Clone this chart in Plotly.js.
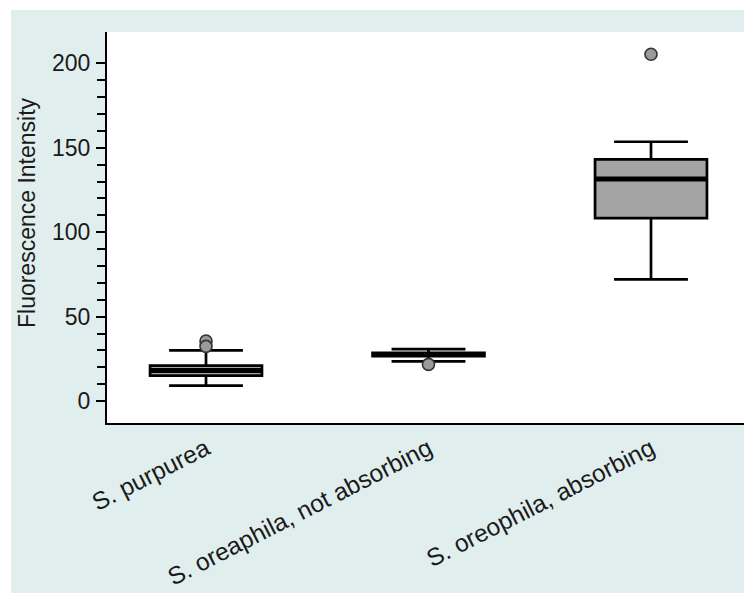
<!DOCTYPE html>
<html>
<head>
<meta charset="utf-8">
<script src="https://cdn.plot.ly/plotly-3.0.1.min.js"></script>
<style>
  html, body { margin: 0; padding: 0; background: #ffffff; }
  #chart { position: absolute; left: 11px; top: 10px; width: 733px; height: 583px; }
</style>
</head>
<body>
<div id="chart"></div>
<script>
// ---- data ----
const categories = ["S. purpurea", "S. oreaphila, not absorbing", "S. oreophila, absorbing"];
const positions = [0, 1, 2];
const lowerWhisker = [9.1, 23.5, 72.1];
const q1Values = [15.1, 26.6, 108.4];
const medianValues = [18.1, 27.6, 131.5];
const q3Values = [21.0, 28.6, 143.1];
const upperWhisker = [30.0, 30.8, 153.6];
const outlierGroup = [0, 0, 1, 2];
const outlierValues = [35.6, 32.4, 21.7, 205.4];
const yTickLabels = ["0", "50", "100", "150", "200"];
const yTickValues = [0, 50, 100, 150, 200];
const yTitle = "Fluorescence Intensity";

// ---- styling ----
const BOX_W = 0.503;
const FONT = "Liberation Sans, Arial, Helvetica, sans-serif";

const minorVals = [];
for (let v = 10; v < 200; v += 10) if (v % 50 !== 0) minorVals.push(v);

// median segments built from the median array
const medX = [], medY = [];
positions.forEach((p, i) => {
  medX.push(p - BOX_W / 2, p + BOX_W / 2, null);
  medY.push(medianValues[i], medianValues[i], null);
});

const traces = [
  {
    type: "box",
    x: positions,
    q1: q1Values,
    median: medianValues,
    q3: q3Values,
    lowerfence: lowerWhisker,
    upperfence: upperWhisker,
    width: BOX_W,
    whiskerwidth: 0.66,
    fillcolor: "#a4a4a4",
    line: { color: "#000000", width: 2.7 },
    boxpoints: false,
    hoverinfo: "skip",
    showlegend: false
  },
  {
    type: "scatter",
    mode: "lines",
    x: medX,
    y: medY,
    line: { color: "#000000", width: 5 },
    hoverinfo: "skip",
    showlegend: false
  },
  {
    type: "scatter",
    mode: "markers",
    x: outlierGroup,
    y: outlierValues,
    marker: { size: 12, color: "#9a9a9a", line: { color: "#333333", width: 1.6 } },
    hoverinfo: "skip",
    showlegend: false
  }
];

const layout = {
  width: 733,
  height: 583,
  margin: { l: 96, r: 0, t: 22, b: 170, pad: 0 },
  paper_bgcolor: "#e1eeee",
  plot_bgcolor: "#ffffff",
  boxmode: "overlay",
  showlegend: false,
  font: { family: FONT, color: "#1a1a1a", size: 23 },
  xaxis: {
    range: [-0.445, 2.418],
    tickmode: "array",
    tickvals: positions,
    ticktext: categories,
    ticks: "",
    tickangle: -27,
    tickfont: { family: FONT, size: 24.5, color: "#1a1a1a" },
    showgrid: false,
    zeroline: false,
    showline: true,
    linecolor: "#000000",
    linewidth: 2
  },
  yaxis: {
    range: [-13.0, 218.6],
    tickmode: "array",
    tickvals: yTickValues,
    ticktext: yTickLabels,
    ticks: "outside",
    ticklen: 9,
    tickwidth: 2,
    tickcolor: "#000000",
    ticklabelstandoff: 1,
    tickfont: { family: FONT, size: 23, color: "#1a1a1a" },
    minor: { tickmode: "array", tickvals: minorVals, ticks: "outside", ticklen: 8, tickwidth: 2, tickcolor: "#000000", showgrid: false },
    showgrid: false,
    zeroline: false,
    showline: true,
    linecolor: "#000000",
    linewidth: 2
  },
  annotations: [
    {
      text: yTitle,
      xref: "paper", yref: "paper",
      x: 0, y: 0.537,
      xanchor: "center", yanchor: "middle",
      xshift: -80,
      textangle: -90,
      showarrow: false,
      font: { family: FONT, size: 23, color: "#1a1a1a" }
    }
  ]
};

Plotly.newPlot("chart", traces, layout, { displayModeBar: false, staticPlot: true });
</script>
</body>
</html>
